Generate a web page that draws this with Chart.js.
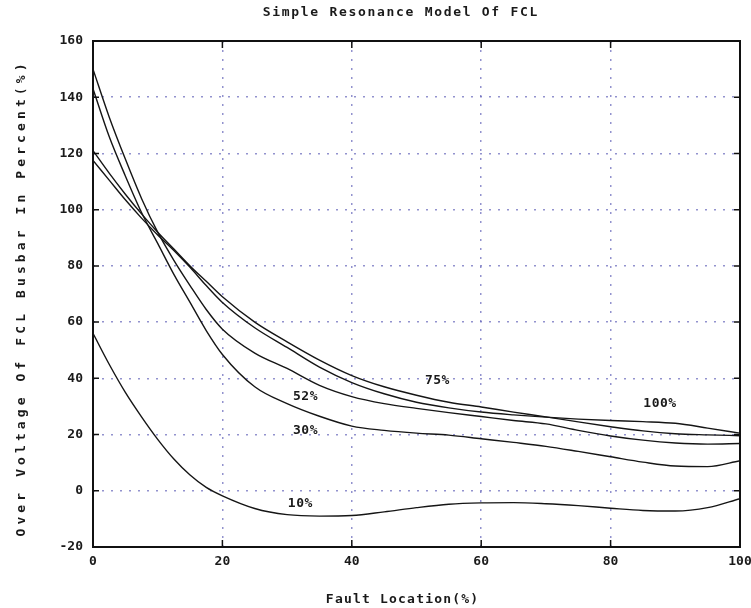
<!DOCTYPE html>
<html lang="en">
<head>
    <meta charset="UTF-8">
    <title>Simple Resonance Model Of FCL</title>
    <script src="https://cdn.jsdelivr.net/npm/chart.js"></script>
    <style>
        body {
            margin: 0;
            background-color: #ffffff;
        }

        .chart-box {
            width: 751px;
            height: 608px;
        }
    </style>
</head>
<body>
    <div class="chart-box">
        <canvas id="grafico"></canvas>
    </div>

    <script>
        // fault location (%) sample points
        const faultLoc = [0, 2.5, 5, 7.5, 10, 12.5, 15, 17.5, 20, 25, 30, 35, 40, 45, 50, 55, 60, 65, 70, 75, 80, 85, 90, 95, 100];

        // over voltage (%) for each FCL size
        const ov100 = [117.5, 110.5, 103.5, 97, 91, 85.5, 79.5, 73, 67, 58, 51, 44, 38.5, 34.5, 31.5, 29.5, 28, 27, 26.2, 25.5, 25, 24.6, 24, 22.3, 20.5];
        const ov75 = [121, 113, 105.5, 98.5, 92, 86, 80, 74.5, 69, 60, 53, 46.5, 41, 37, 34, 31.5, 29.8, 28, 26.3, 24.5, 22.8, 21.3, 20.3, 19.9, 19.6];
        const ov52 = [150, 133, 118, 104, 92, 82, 73, 64.5, 57.5, 49, 43.5, 37.5, 33.5, 31, 29.3, 27.8, 26.4, 25, 23.8, 21.5, 19.5, 18, 17, 16.6, 16.8];
        const ov30 = [143, 126, 112, 99, 88, 77, 67, 57, 48.5, 37, 31, 26.5, 23, 21.5, 20.5, 19.8, 18.5, 17.2, 15.8, 14, 12.1, 10.2, 8.8, 8.6, 10.7];
        const ov10 = [56, 45, 35, 26.3, 18.3, 11.3, 5.6, 1.2, -1.8, -6.3, -8.5, -9, -8.8, -7.5, -6, -4.8, -4.3, -4.2, -4.6, -5.3, -6.2, -7, -7.2, -6, -2.8];

        // curve tags, placed in data coordinates
        const tagText = ["100%", "75%", "52%", "30%", "10%"];
        const tagX = [87.6, 53.2, 32.8, 32.8, 32];
        const tagY = [31, 39.2, 33.5, 21.4, -4.6];

        const FONT = '"DejaVu Sans Mono", monospace';

        function serie(vals) {
            return {
                data: faultLoc.map((x, i) => ({ x: x, y: vals[i] })),
                borderColor: '#151515',
                borderWidth: 1.4,
                pointRadius: 0,
                fill: false,
                cubicInterpolationMode: 'monotone'
            };
        }

        function texto(ctx, str, x, y, spacing, angle) {
            ctx.save();
            ctx.translate(x, y);
            ctx.rotate(angle || 0);
            ctx.font = 'bold 13px ' + FONT;
            ctx.letterSpacing = spacing + 'px';
            ctx.fillStyle = '#1a1a1a';
            ctx.textAlign = 'center';
            ctx.textBaseline = 'middle';
            ctx.fillText(str, spacing / 2, 0);
            ctx.restore();
        }

        // frame, inner tick marks, titles and curve tags
        const moldura = {
            id: 'moldura',
            afterDraw(chart) {
                const ctx = chart.ctx;
                const a = chart.chartArea;
                const sx = chart.scales.x;
                const sy = chart.scales.y;

                ctx.save();
                ctx.strokeStyle = '#111111';
                ctx.lineWidth = 2;
                ctx.strokeRect(a.left, a.top, a.right - a.left, a.bottom - a.top);

                ctx.lineWidth = 1.5;
                ctx.beginPath();
                sy.ticks.forEach(t => {
                    const py = sy.getPixelForValue(t.value);
                    ctx.moveTo(a.left, py);
                    ctx.lineTo(a.left + 6, py);
                    ctx.moveTo(a.right, py);
                    ctx.lineTo(a.right - 6, py);
                });
                sx.ticks.forEach(t => {
                    const px = sx.getPixelForValue(t.value);
                    ctx.moveTo(px, a.bottom);
                    ctx.lineTo(px, a.bottom - 7);
                    ctx.moveTo(px, a.top);
                    ctx.lineTo(px, a.top + 7);
                });
                ctx.stroke();
                ctx.restore();

                texto(ctx, 'Simple Resonance Model Of FCL', 400, 13, 1.7, 0);
                texto(ctx, 'Fault Location(%)', 402, 600, 1.2, 0);
                texto(ctx, 'Over Voltage Of FCL Busbar In Percent(%)', 22, 300, 4.1, -Math.PI / 2);

                tagText.forEach((t, i) => {
                    texto(ctx, t, sx.getPixelForValue(tagX[i]), sy.getPixelForValue(tagY[i]), 0.5, 0);
                });
            }
        };

        const ctx = document.getElementById("grafico").getContext("2d");
        const chart = new Chart(ctx, {
            type: 'line',
            data: {
                datasets: [serie(ov100), serie(ov75), serie(ov52), serie(ov30), serie(ov10)]
            },
            options: {
                responsive: true,
                maintainAspectRatio: false,
                animation: false,
                layout: { padding: { top: 41, right: 11, bottom: 0, left: 0 } },
                plugins: {
                    legend: { display: false },
                    title: { display: false },
                    tooltip: { enabled: false }
                },
                scales: {
                    x: {
                        type: 'linear',
                        min: 0,
                        max: 100,
                        afterFit: s => { s.height = 61; s.paddingRight = 0; s.paddingLeft = 0; },
                        ticks: {
                            stepSize: 20,
                            padding: 7,
                            color: '#1a1a1a',
                            font: { family: FONT, size: 13, weight: 'bold' }
                        },
                        grid: { color: 'rgba(110,110,190,0.75)', lineWidth: 1.5, drawTicks: false },
                        border: { display: false, dash: [2, 7] }
                    },
                    y: {
                        min: -20,
                        max: 160,
                        afterFit: s => { s.width = 93; s.paddingTop = 0; s.paddingBottom = 0; },
                        ticks: {
                            stepSize: 20,
                            padding: 10,
                            color: '#1a1a1a',
                            font: { family: FONT, size: 13, weight: 'bold' }
                        },
                        grid: { color: 'rgba(110,110,190,0.75)', lineWidth: 1.5, drawTicks: false },
                        border: { display: false, dash: [2, 7] }
                    }
                }
            },
            plugins: [moldura]
        });
    </script>
</body>
</html>
